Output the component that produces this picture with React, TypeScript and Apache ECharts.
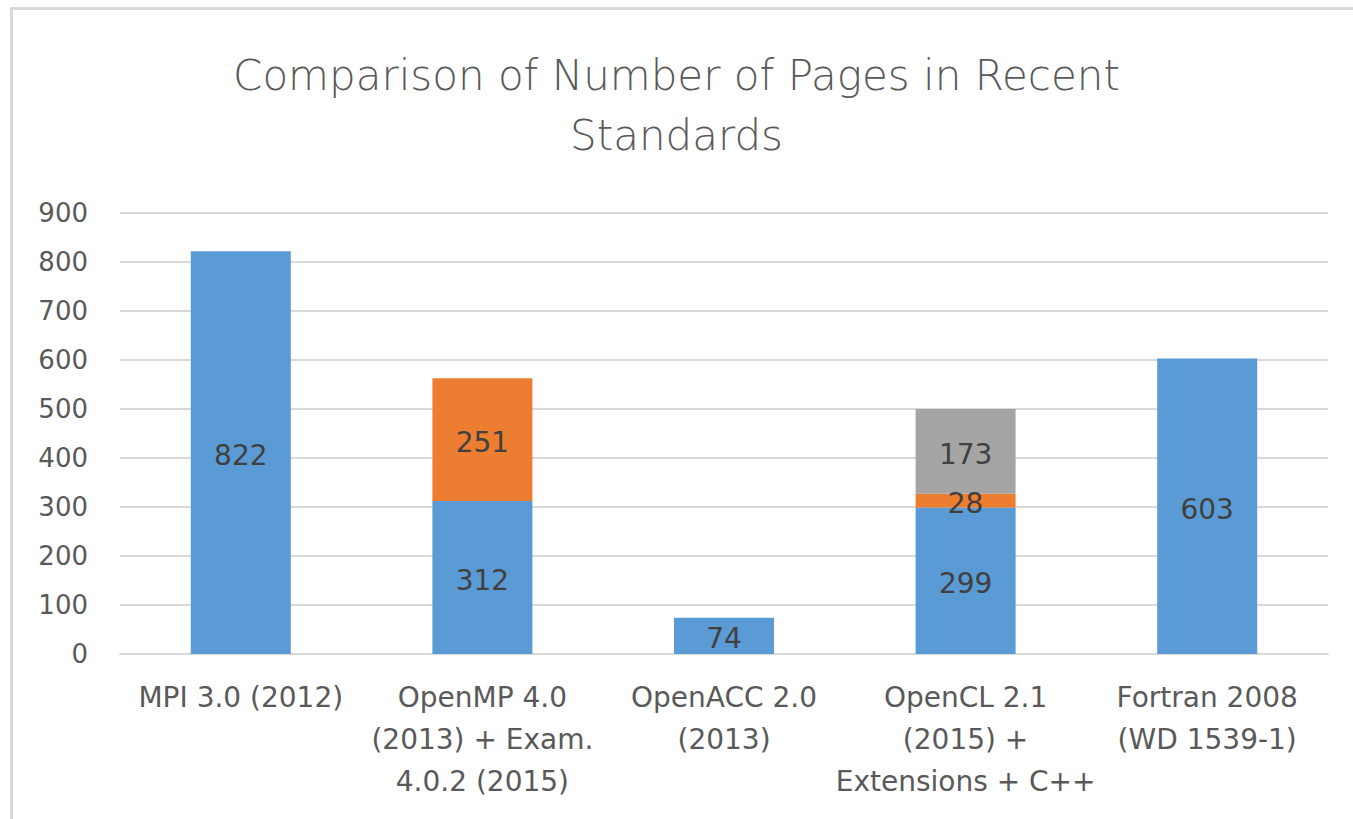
import React, { useEffect, useRef } from "react";
import * as echarts from "echarts";

const categories = [
  "MPI 3.0 (2012)",
  "OpenMP 4.0\n(2013) + Exam.\n4.0.2 (2015)",
  "OpenACC 2.0\n(2013)",
  "OpenCL 2.1\n(2015) +\nExtensions + C++",
  "Fortran 2008\n(WD 1539-1)",
];
const baseValues = [822, 312, 74, 299, 603];
const secondValues = [null, 251, null, 28, null];
const thirdValues = [null, null, null, 173, null];
const titleText = "Comparison of Number of Pages in Recent\nStandards";

const FONT = "DejaVu Sans";
const TEXT = "#595959";
const LABEL = "#404040";

export default function App() {
  const ref = useRef<HTMLDivElement>(null);
  useEffect(() => {
    if (!ref.current) return;
    const chart = echarts.init(ref.current, null, { renderer: "svg" });
    const label = {
      show: true,
      position: "inside" as const,
      offset: [0, 3],
      color: LABEL,
      fontSize: 28,
      fontFamily: FONT,
    };
    chart.setOption({
      animation: false,
      backgroundColor: "#ffffff",
      textStyle: { fontFamily: FONT },
      title: {
        text: titleText,
        left: "center",
        top: 40,
        textStyle: {
          fontFamily: FONT,
          fontSize: 42,
          fontWeight: 300,
          color: TEXT,
          lineHeight: 60,
        },
      },
      graphic: [
        {
          type: "rect",
          shape: { x: 11.5, y: 8.5, width: 1500, height: 1000 },
          style: { fill: "none", stroke: "#D9D9D9", lineWidth: 3 },
          silent: true,
        },
      ],
      grid: { left: 120, right: 25, top: 213, bottom: 165 },
      xAxis: {
        type: "category",
        data: categories,
        axisLine: { show: true, lineStyle: { color: "#D9D9D9", width: 2 } },
        axisTick: { show: false },
        axisLabel: {
          color: TEXT,
          fontSize: 28,
          fontFamily: FONT,
          lineHeight: 42,
          margin: 22,
          interval: 0,
        },
      },
      yAxis: {
        type: "value",
        min: 0,
        max: 900,
        interval: 100,
        axisLine: { show: false },
        axisTick: { show: false },
        axisLabel: { color: TEXT, fontSize: 26, fontFamily: FONT, margin: 32 },
        splitLine: { lineStyle: { color: "#D9D9D9", width: 2 } },
      },
      series: [
        {
          type: "bar",
          stack: "total",
          data: baseValues,
          barWidth: 100,
          itemStyle: { color: "#5B9BD5" },
          label,
        },
        {
          type: "bar",
          stack: "total",
          data: secondValues,
          barWidth: 100,
          itemStyle: { color: "#ED7D31" },
          label,
        },
        {
          type: "bar",
          stack: "total",
          data: thirdValues,
          barWidth: 100,
          itemStyle: { color: "#A5A5A5" },
          label,
        },
      ],
    });
    return () => chart.dispose();
  }, []);
  return (
    <div
      ref={ref}
      style={{ position: "fixed", left: 0, top: 0, width: 1353, height: 819 }}
    />
  );
}
